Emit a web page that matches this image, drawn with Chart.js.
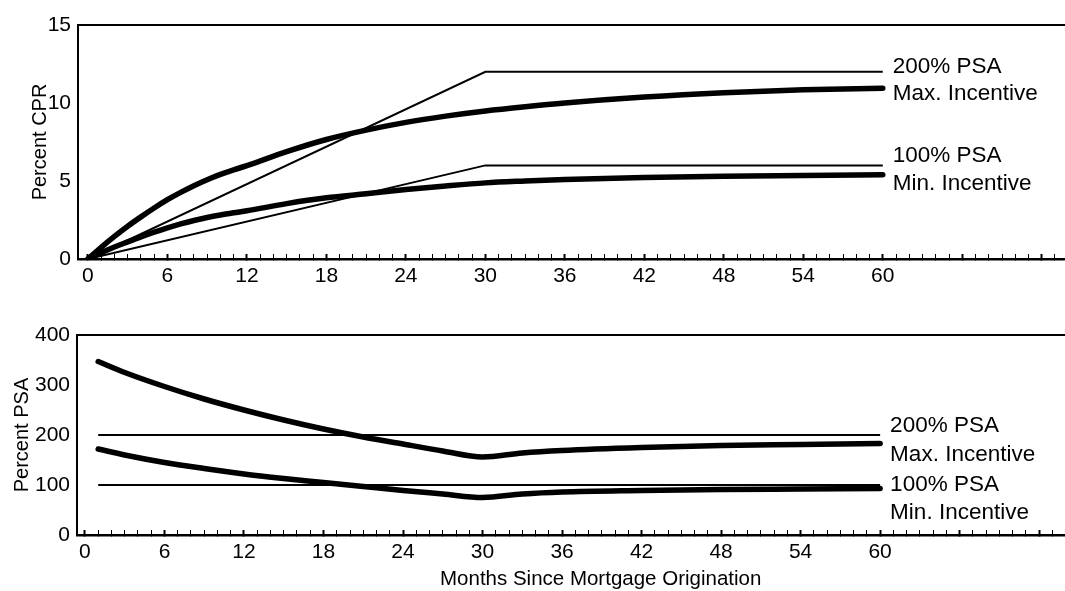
<!DOCTYPE html>
<html>
<head>
<meta charset="utf-8">
<title>CPR and PSA by Month</title>
<script src="https://cdn.jsdelivr.net/npm/chart.js@4.4.1/dist/chart.umd.min.js"></script>
<style>
  body { margin: 0; background: #fff; }
  #wrap { position: relative; width: 1065px; height: 591px; font-family: "Liberation Sans", Arial, sans-serif; }
  #cprChart { position: absolute; left: 0; top: 0; }
  #psaChart { position: absolute; left: 0; top: 300px; }
  #xTitle { position: absolute; left: 440px; top: 568px; font-size: 20.5px; line-height: 20px; color: #000; white-space: nowrap; }
</style>
</head>
<body>
<div id="wrap">
  <canvas id="cprChart" width="1065" height="300"></canvas>
  <canvas id="psaChart" width="1065" height="291"></canvas>
  <div id="xTitle">Months Since Mortgage Origination</div>
</div>
<script>
// top panel: percent CPR
const cprMonths = [0, 1, 2, 3, 4, 5, 6, 7, 8, 9, 10, 11, 12, 15, 18, 21, 24, 27, 30, 33, 36, 42, 48, 54, 60];
const cprMaxIncentive = [0, 0.75, 1.45, 2.1, 2.7, 3.27, 3.8, 4.27, 4.7, 5.08, 5.42, 5.72, 5.98, 6.88, 7.66, 8.26, 8.76, 9.16, 9.49, 9.76, 10.0, 10.38, 10.66, 10.85, 10.95];
const cprMinIncentive = [0, 0.4, 0.77, 1.1, 1.42, 1.72, 2.0, 2.25, 2.47, 2.66, 2.82, 2.96, 3.09, 3.55, 3.92, 4.18, 4.45, 4.68, 4.88, 5.0, 5.1, 5.22, 5.3, 5.36, 5.4];
const psaRampMonths = [0, 30, 60];
const cpr200Psa = [0, 12, 12];
const cpr100Psa = [0, 6, 6];

// bottom panel: percent PSA
const psaMonths = [1, 3, 6, 9, 12, 15, 18, 21, 24, 27, 30, 33, 36, 42, 48, 54, 60];
const psaMaxIncentive = [347, 325, 297, 272, 250, 230, 212, 196, 182, 168, 156, 164, 169, 175, 179, 181, 183];
const psaMinIncentive = [172, 160, 145, 133, 122, 113, 105, 97, 89, 82, 75, 82, 86, 89, 91, 92, 93];
const benchMonths = [1, 60];
const psa200Flat = [200, 200];
const psa100Flat = [100, 100];

// tick labels and end labels
const xTickLabels = ['0', '6', '12', '18', '24', '30', '36', '42', '48', '54', '60'];
const endLabelText = ['200% PSA', 'Max. Incentive', '100% PSA', 'Min. Incentive'];
const cprLabelAt = [12.42, 10.71, 6.74, 4.97];
const psaLabelAt = [222, 164, 105, 48];

const FONT = '"Liberation Sans", Arial, sans-serif';
Chart.defaults.font.family = FONT;
Chart.defaults.color = '#000';

const pts = (xs, ys) => xs.map((x, i) => ({ x: x, y: ys[i] }));

const thin = (data) => ({
  data: data, borderColor: '#000', borderWidth: 2, pointRadius: 0, tension: 0, fill: false
});
const thick = (data) => ({
  data: data, borderColor: '#000', borderWidth: 5.5, pointRadius: 0,
  cubicInterpolationMode: 'monotone', borderCapStyle: 'round', borderJoinStyle: 'round', fill: false
});

// writes the two-line series names at the right end of the lines
const endLabels = {
  id: 'endLabels',
  afterDatasetsDraw(chart, args, opts) {
    const ctx = chart.ctx;
    const x = chart.scales.x.getPixelForValue(60) + 10;
    ctx.save();
    ctx.font = '22.5px ' + FONT;
    ctx.fillStyle = '#000';
    ctx.textAlign = 'left';
    ctx.textBaseline = 'alphabetic';
    opts.text.forEach((t, i) => {
      const y = chart.scales.y.getPixelForValue(opts.at[i]) + 0.716 * 22.5 / 2;
      ctx.fillText(t, x, y);
    });
    ctx.restore();
  }
};

function makeOptions(cfg) {
  const minorTicks = [];
  for (let m = 0; m <= Math.floor(cfg.xMax); m++) minorTicks.push({ value: m });
  return {
    responsive: false,
    animation: false,
    devicePixelRatio: 1,
    layout: { padding: { top: cfg.padTop, right: 0, left: 0, bottom: 0 } },
    plugins: {
      legend: { display: false },
      tooltip: { enabled: false },
      endLabels: { text: endLabelText, at: cfg.labelAt }
    },
    scales: {
      x: {
        type: 'linear',
        min: cfg.xMin,
        max: cfg.xMax,
        afterBuildTicks: (s) => { s.ticks = minorTicks; },
        afterFit: (s) => { s.height = cfg.xHeight; },
        grid: {
          display: true,
          drawOnChartArea: false,
          drawTicks: true,
          tickLength: -5,
          tickColor: '#000',
          tickWidth: (c) => (c.tick && c.tick.value % 6 === 0 ? 2 : 1)
        },
        border: { display: true, color: '#000', width: 2.5 },
        ticks: {
          autoSkip: false,
          maxRotation: 0,
          padding: 10,
          font: { size: 21 },
          callback: (v) => (xTickLabels.includes(String(v)) ? String(v) : '')
        }
      },
      xTop: {
        type: 'linear',
        position: 'top',
        min: cfg.xMin,
        max: cfg.xMax,
        ticks: { display: false },
        grid: { display: false, drawTicks: false },
        border: { display: true, color: '#000', width: 2 }
      },
      y: {
        type: 'linear',
        min: cfg.yMin,
        max: cfg.yMax,
        afterFit: (s) => { s.width = cfg.yWidth; },
        grid: { display: false, drawTicks: false },
        border: { display: true, color: '#000', width: 2 },
        ticks: { stepSize: cfg.yStep, padding: 7, font: { size: 21 } },
        title: {
          display: true,
          text: cfg.yTitle,
          font: { size: 20 },
          padding: { top: cfg.yTitlePad, bottom: 0 }
        }
      }
    }
  };
}

new Chart(document.getElementById('cprChart'), {
  type: 'line',
  data: {
    datasets: [
      thin(pts(psaRampMonths, cpr200Psa)),
      thin(pts(psaRampMonths, cpr100Psa)),
      thick(pts(cprMonths, cprMaxIncentive)),
      thick(pts(cprMonths, cprMinIncentive))
    ]
  },
  options: makeOptions({
    xMin: -0.75, xMax: 73.7, padTop: 25, xHeight: 41, yWidth: 78,
    yMin: 0, yMax: 15, yStep: 5, yTitle: 'Percent CPR', yTitlePad: 28, labelAt: cprLabelAt
  }),
  plugins: [endLabels]
});

new Chart(document.getElementById('psaChart'), {
  type: 'line',
  data: {
    datasets: [
      thin(pts(benchMonths, psa200Flat)),
      thin(pts(benchMonths, psa100Flat)),
      thick(pts(psaMonths, psaMaxIncentive)),
      thick(pts(psaMonths, psaMinIncentive))
    ]
  },
  options: makeOptions({
    xMin: -0.6, xMax: 73.95, padTop: 35, xHeight: 56, yWidth: 77,
    yMin: 0, yMax: 400, yStep: 100, yTitle: 'Percent PSA', yTitlePad: 10, labelAt: psaLabelAt
  }),
  plugins: [endLabels]
});
</script>
</body>
</html>
